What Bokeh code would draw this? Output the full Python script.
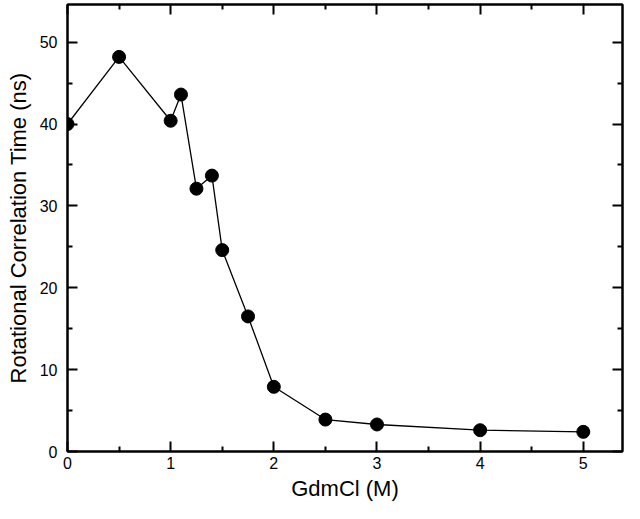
from bokeh.plotting import figure
from bokeh.models import LinearAxis, Range1d, FixedTicker, CustomJSTickFormatter
from bokeh.embed import file_html
from bokeh.resources import INLINE

gdmcl = [0.0, 0.5, 1.0, 1.1, 1.25, 1.4, 1.5, 1.75, 2.0, 2.5, 3.0, 4.0, 5.0]
tau_ns = [40.0, 48.2, 40.4, 43.6, 32.1, 33.7, 24.6, 16.5, 7.9, 3.9, 3.3, 2.6, 2.4]
x_ticks = [0, 1, 2, 3, 4, 5]
x_minor = [0.5, 1.5, 2.5, 3.5, 4.5]
y_ticks = [0, 10, 20, 30, 40, 50]
y_minor = [5, 15, 25, 35, 45]

FONT = "Liberation Sans"

p = figure(width=624, height=503, output_backend="svg", toolbar_location=None,
           x_range=Range1d(0, 5.38), y_range=Range1d(0, 54.6),
           x_axis_location=None, y_axis_location=None,
           min_border_left=67, min_border_right=2, min_border_top=4, min_border_bottom=50)
p.grid.visible = False
p.background_fill_color = "white"
p.border_fill_color = "white"
p.outline_line_color = "black"
p.outline_line_width = 2

p.line(gdmcl, tau_ns, line_color="black", line_width=1.3)
p.scatter(gdmcl, tau_ns, size=13, fill_color="black", line_color="black")

bottom = LinearAxis(ticker=FixedTicker(ticks=x_ticks, minor_ticks=x_minor), axis_label="GdmCl (M)")
left = LinearAxis(ticker=FixedTicker(ticks=y_ticks, minor_ticks=y_minor),
                  axis_label="Rotational Correlation Time (ns)")
top = LinearAxis(ticker=FixedTicker(ticks=x_ticks, minor_ticks=x_minor))
right = LinearAxis(ticker=FixedTicker(ticks=y_ticks, minor_ticks=y_minor))
p.add_layout(bottom, "below")
p.add_layout(left, "left")
p.add_layout(top, "above")
p.add_layout(right, "right")

for ax in [bottom, left, top, right]:
    ax.axis_line_color = "black"
    ax.axis_line_width = 2
    ax.major_tick_in = 10
    ax.major_tick_out = 0
    ax.minor_tick_in = 5
    ax.minor_tick_out = 0
    ax.major_tick_line_width = 2
    ax.minor_tick_line_width = 2
    ax.major_tick_line_color = "black"
    ax.minor_tick_line_color = "black"
    ax.major_label_text_font = FONT
    ax.major_label_text_font_size = "16px"
    ax.major_label_text_color = "black"
    ax.axis_label_text_font = FONT
    ax.axis_label_text_font_size = "22px"
    ax.axis_label_text_font_style = "normal"
    ax.axis_label_text_color = "black"

for ax in [top, right]:
    ax.formatter = CustomJSTickFormatter(code="return '';")
    ax.major_label_standoff = 0
    ax.axis_label_standoff = 0

bottom.major_label_standoff = 5
bottom.axis_label_standoff = 4
left.major_label_standoff = 10
left.axis_label_standoff = 6

open("out.html", "w").write(file_html(p, INLINE))
